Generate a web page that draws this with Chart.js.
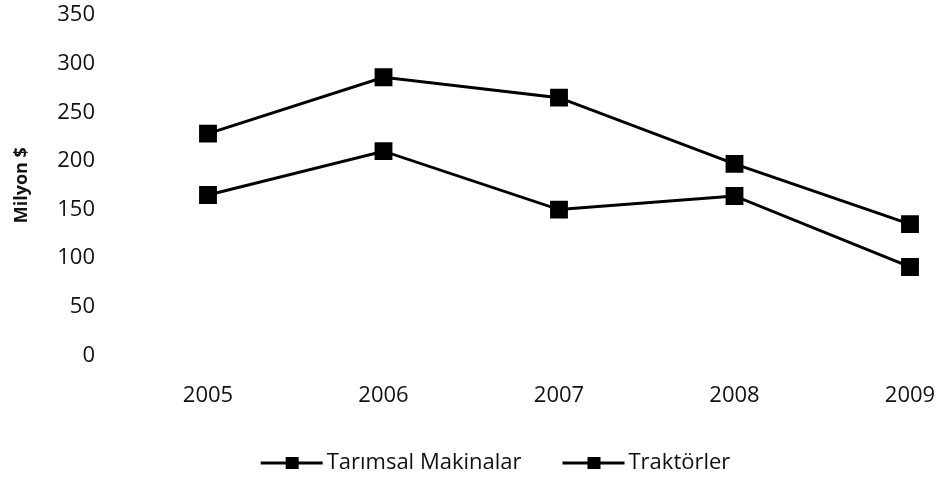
<!DOCTYPE html>
<html>
<head>
<meta charset="utf-8">
<script src="https://cdn.jsdelivr.net/npm/chart.js@4/dist/chart.umd.min.js"></script>
<style>
html,body{margin:0;padding:0;background:#fff;}
#wrap{width:942px;height:485px;position:relative;}
</style>
</head>
<body>
<div id="wrap"><canvas id="c" width="942" height="485"></canvas></div>
<script>
const years = ['2005','2006','2007','2008','2009'];
const tarimsalMakinalar = [228, 286, 265, 197, 135];
const traktorler = [165, 210, 150, 164, 91];
const seriesNames = ['Tarımsal Makinalar','Traktörler'];

function legendIcon(){
  const cv = document.createElement('canvas');
  cv.width = 64; cv.height = 14;
  const g = cv.getContext('2d');
  g.strokeStyle = '#000'; g.lineWidth = 3;
  g.beginPath(); g.moveTo(1,7); g.lineTo(63,7); g.stroke();
  g.fillStyle = '#000'; g.fillRect(26,1,13,12);
  return cv;
}
const icon = legendIcon();

const font = "'Open Sans', 'Liberation Sans', sans-serif";
Chart.defaults.font.family = font;
Chart.defaults.color = '#111';

// keeps the legend box short and moves it to the reference's place
const legendPlace = {
  id: 'legendPlace',
  beforeLayout(chart){
    const lg = chart.legend;
    if (lg && !lg._patched){
      const f = lg.fit;
      lg.fit = function(){ f.call(this); this.height = 45.5; };
      lg._patched = true;
    }
  },
  afterLayout(chart){
    const lg = chart.legend;
    if (!lg) return;
    lg.top = 404; lg.bottom = 485; lg.height = 81;
    lg.left = 46; lg.right = 952; lg.width = lg.right - lg.left;
  }
};

new Chart(document.getElementById('c'), {
  type: 'line',
  data: {
    labels: years,
    datasets: [
      {label: seriesNames[0], data: tarimsalMakinalar, borderColor:'#000', backgroundColor:'#000', borderWidth:3, pointStyle:'rect', pointRadius:10.5, pointHoverRadius:10.5, tension:0},
      {label: seriesNames[1], data: traktorler, borderColor:'#000', backgroundColor:'#000', borderWidth:3, pointStyle:'rect', pointRadius:10.5, pointHoverRadius:10.5, tension:0}
    ]
  },
  plugins:[legendPlace],
  options: {
    responsive:false,
    animation:false,
    layout:{padding:{left:4,right:32,top:15,bottom:4}},
    plugins:{
      legend:{
        position:'bottom',
        labels:{
          usePointStyle:true,
          pointStyle: icon,
          pointStyleWidth:48,
          boxHeight:14,
          font:{size:22},
          color:'#111',
          padding:48,
          generateLabels(chart){
            return chart.data.datasets.map((d,i)=>({text:d.label, pointStyle:icon, fillStyle:'#000', strokeStyle:'#000', lineWidth:0, datasetIndex:i, hidden:false, fontColor:'#111'}));
          }
        }
      },
      tooltip:{enabled:false}
    },
    scales:{
      x:{
        offset:false,
        grid:{display:false, drawTicks:false},
        border:{display:false},
        ticks:{font:{size:22}, padding:27, color:'#111', maxRotation:0, autoSkip:false},
        afterFit(s){ s.height = 80; s.paddingLeft = 0; s.paddingRight = 0; }
      },
      y:{
        min:0, max:350,
        grid:{display:false, drawTicks:false},
        border:{display:false},
        ticks:{stepSize:50, font:{size:22}, padding:113, color:'#111'},
        title:{display:true, text:'Milyon $', font:{size:18, weight:'bold'}, color:'#111', padding:{top:7,bottom:0}},
        afterFit(s){ s.width = 204; s.paddingTop = 0; s.paddingBottom = 0; }
      }
    }
  }
});
</script>
</body>
</html>
